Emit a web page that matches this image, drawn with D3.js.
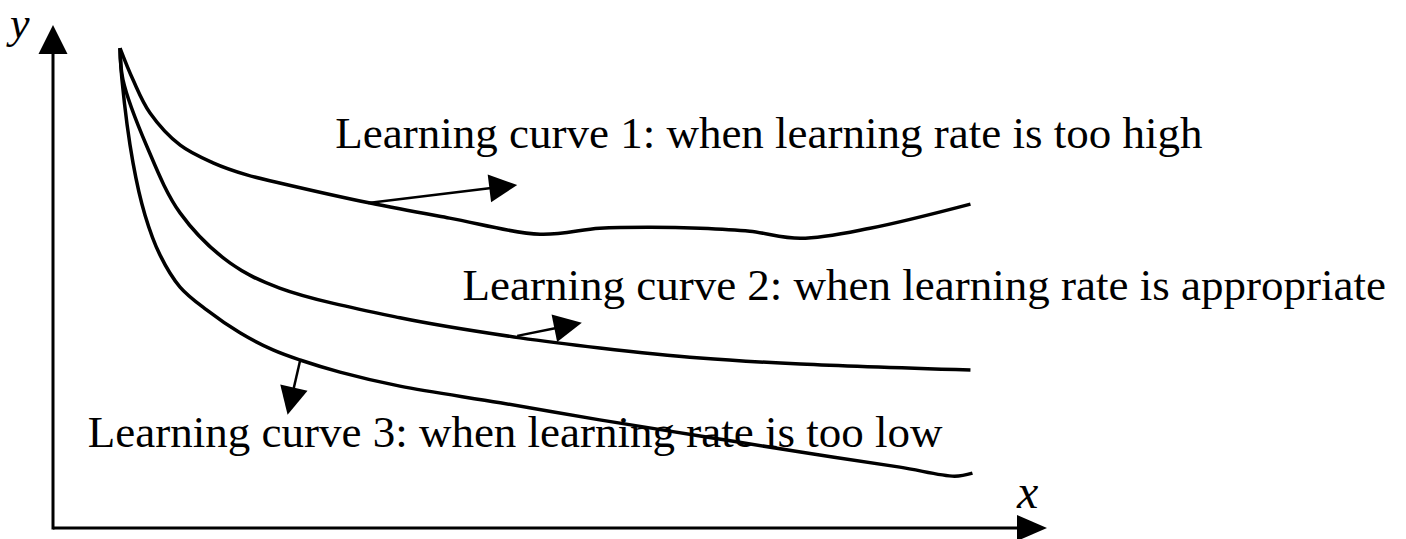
<!DOCTYPE html>
<html>
<head>
<meta charset="utf-8">
<script src="https://cdn.jsdelivr.net/npm/d3@7"></script>
<style>
  html, body { margin: 0; padding: 0; background: #fff; }
  svg { display: block; }
</style>
</head>
<body>
<svg id="chart" width="1406" height="539"></svg>
<script>
// Learning-curve sketch: loss (y) versus training iterations (x), 0–100 units on both axes.
const curve1 = [ // learning rate too high
  [6.74, 95.4], [8.05, 89.1], [9.76, 82.5], [12.8, 76.1], [16.1, 72.6], [19.5, 70.2],
  [22.8, 68.6], [31.9, 64.6], [39.9, 61.6], [49.0, 58.4], [55.0, 59.6], [60.1, 59.8],
  [65.1, 59.6], [70.1, 59.0], [75.2, 57.6], [82.2, 59.6], [92.3, 64.4]
];
const curve2 = [ // learning rate appropriate
  [6.74, 95.4], [7.04, 89.1], [9.46, 75.8], [12.8, 62.6], [17.8, 52.7], [22.8, 47.7],
  [34.9, 41.8], [47.0, 37.8], [55.0, 35.8], [65.1, 33.8], [75.2, 32.6], [92.3, 31.4]
];
const curve3 = [ // learning rate too low
  [6.74, 95.4], [6.94, 89.1], [8.05, 72.6], [9.26, 62.2], [10.76, 54.3], [12.78, 47.9],
  [15.49, 43.3], [18.81, 38.8], [22.13, 35.4], [24.85, 33.4], [28.87, 31.0], [34.9, 28.2],
  [45.0, 24.9], [55.0, 21.5], [65.1, 18.3], [75.2, 15.1], [85.2, 12.1], [90.7, 10.3],
  [92.5, 10.9]
];
const curveLabels = [
  "Learning curve 1: when learning rate is too high",
  "Learning curve 2: when learning rate is appropriate",
  "Learning curve 3: when learning rate is too low"
];
// label anchor (x, y baseline) in data units
const labelPos = [[28.4, 75.5], [41.2, 45.3], [3.5, 16.1]];
// pointer arrows: from a point on the curve to the arrow tip, in data units
const pointers = [
  [[31.7, 64.6], [46.7, 68.2]],
  [[46.7, 38.2], [53.2, 40.8]],
  [[24.85, 33.2], [23.6, 22.5]]
];
const axisNames = ["x", "y"];

const svg = d3.select("#chart");
const x = d3.scaleLinear().domain([0, 100]).range([53, 1047]);
const y = d3.scaleLinear().domain([0, 100]).range([528, 25]);

const ink = "#000";

// filled triangular arrowhead with tip at (tx, ty) pointing along (dx, dy)
function arrowHead(tx, ty, dx, dy, len, half) {
  const n = Math.hypot(dx, dy), ux = dx / n, uy = dy / n;
  const bx = tx - ux * len, by = ty - uy * len;
  return [[tx, ty], [bx - uy * half, by + ux * half], [bx + uy * half, by - ux * half]];
}
const poly = d3.line();

// axes
const x0 = x(0), y0 = y(0), xEnd = x(100), yEnd = y(100);
svg.append("line").attr("x1", x0).attr("y1", y0).attr("x2", xEnd - 28).attr("y2", y0)
  .attr("stroke", ink).attr("stroke-width", 3);
svg.append("line").attr("x1", x0).attr("y1", y0 + 1.5).attr("x2", x0).attr("y2", yEnd + 28)
  .attr("stroke", ink).attr("stroke-width", 3);
svg.append("path").attr("d", poly(arrowHead(xEnd, y0, 1, 0, 30, 13)) + "Z").attr("fill", ink);
svg.append("path").attr("d", poly(arrowHead(x0, yEnd, 0, -1, 29, 14.5)) + "Z").attr("fill", ink);

svg.append("text").attr("x", 1017).attr("y", 508)
  .attr("font-family", "Liberation Serif").attr("font-style", "italic").attr("font-size", 48)
  .text(axisNames[0]);
svg.append("text").attr("x", 10).attr("y", 38)
  .attr("font-family", "Liberation Serif").attr("font-style", "italic").attr("font-size", 44)
  .text(axisNames[1]);

// curves
const line = d3.line().x(d => x(d[0])).y(d => y(d[1])).curve(d3.curveCatmullRom.alpha(0.5));
[curve1, curve2, curve3].forEach(c => {
  svg.append("path").attr("d", line(c)).attr("fill", "none")
    .attr("stroke", ink).attr("stroke-width", 3.5).attr("stroke-linecap", "butt");
});

// pointer arrows
pointers.forEach(([s, t]) => {
  const sx = x(s[0]), sy = y(s[1]), tx = x(t[0]), ty = y(t[1]);
  const dx = tx - sx, dy = ty - sy, n = Math.hypot(dx, dy);
  const len = 28;
  svg.append("line").attr("x1", sx).attr("y1", sy)
    .attr("x2", tx - dx / n * (len - 2)).attr("y2", ty - dy / n * (len - 2))
    .attr("stroke", ink).attr("stroke-width", 2.5);
  svg.append("path").attr("d", poly(arrowHead(tx, ty, dx, dy, len, 14)) + "Z").attr("fill", ink);
});

// labels
curveLabels.forEach((t, i) => {
  svg.append("text").attr("x", x(labelPos[i][0])).attr("y", y(labelPos[i][1]))
    .attr("font-family", "Liberation Serif").attr("font-size", 45).attr("fill", ink)
    .text(t);
});
</script>
</body>
</html>
